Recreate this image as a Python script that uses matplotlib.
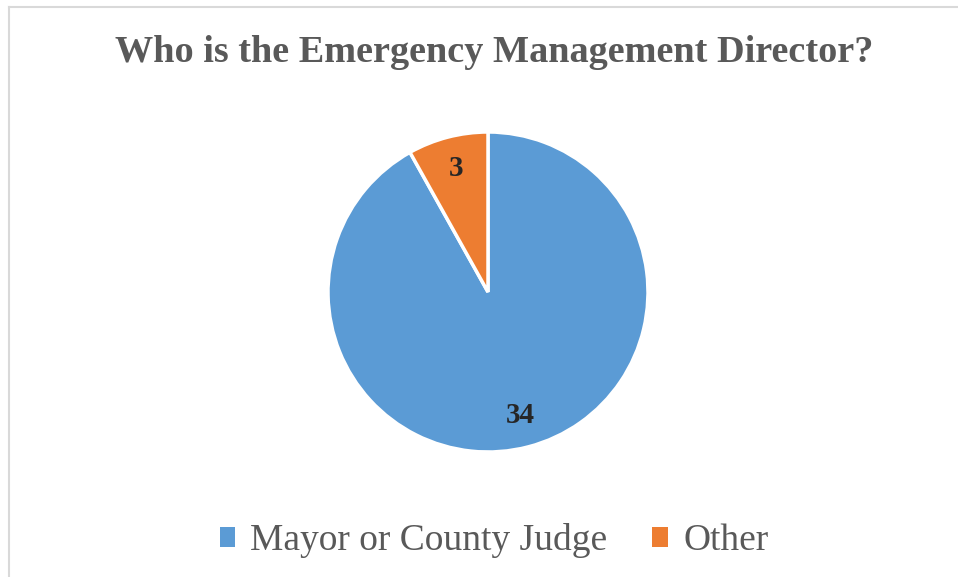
import matplotlib
matplotlib.use('Agg')
import matplotlib.pyplot as plt
from matplotlib.lines import Line2D
from matplotlib.patches import Patch

# data
categories = ['Mayor or County Judge', 'Other']
values = [34, 3]
colors = ['#5B9BD5', '#ED7D31']
title = 'Who is the Emergency Management Director?'

W, H = 958, 577
fig = plt.figure(figsize=(W / 100, H / 100), dpi=100)
fig.patch.set_facecolor('white')

# light frame lines (top and left)
fig.add_artist(Line2D([9 / W, 1], [1 - 7 / H, 1 - 7 / H], color='#d9d9d9', lw=1.5))
fig.add_artist(Line2D([9 / W, 9 / W], [0, 1 - 7 / H], color='#d9d9d9', lw=1.5))

fig.text(494 / W, 1 - 52 / H, title, ha='center', va='center',
         fontsize=27.5, fontweight='bold', color='#595959', family='Liberation Serif')

# pie axes: center (488, 292), radius 160 px
cx, cy, r = 488, 292, 160
ax = fig.add_axes([(cx - r) / W, (H - cy - r) / H, 2 * r / W, 2 * r / H])
wedges, texts = ax.pie(values, colors=colors, startangle=90, counterclock=False,
                       labels=[str(v) for v in values], labeldistance=0.8,
                       wedgeprops=dict(edgecolor='white', linewidth=2.5),
                       textprops=dict(fontsize=21, fontweight='bold', color='#262626',
                                      family='Liberation Serif', ha='center', va='center'))
ax.set_xlim(-1.0, 1.0)
ax.set_ylim(-1.0, 1.0)
ax.set_aspect('equal')
ax.axis('off')

handles = [Patch(facecolor=c, edgecolor='none') for c in colors]
fig.legend(handles, categories, loc='center', bbox_to_anchor=(494 / W, 1 - 541 / H),
           ncol=2, frameon=False, handlelength=0.42, handleheight=0.42,
           handletextpad=0.4, columnspacing=1.2,
           prop=dict(family='Liberation Serif', size=27), labelcolor='#595959')

fig.savefig('out.png', dpi=100, facecolor='white')
